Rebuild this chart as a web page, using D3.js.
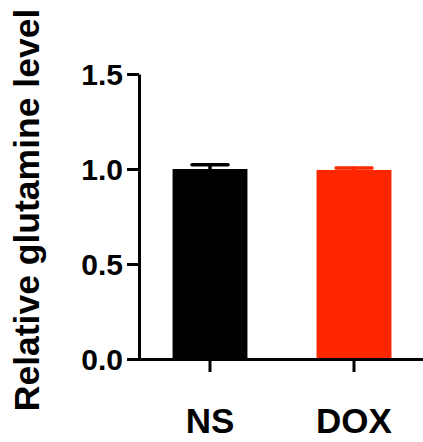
<!DOCTYPE html>
<html>
<head>
<meta charset="utf-8">
<script src="https://cdn.jsdelivr.net/npm/d3@7"></script>
<style>
	body { margin: 0; background: #fff; }
	text { font-family: "Liberation Sans", Arial, sans-serif; font-weight: bold; fill: #000; }
</style>
</head>
<body>
<script>
	var groups = ['NS', 'DOX'],
	means    = [1.0, 0.995],
	errors   = [0.022, 0.01],
	colors   = ['#000000', '#ff2600'],
	yTicks   = [0, 0.5, 1.0, 1.5];

	var width = 423, height = 442;

	var svg = d3.select('body').append('svg')
	.attr('width', width)
	.attr('height', height);

	var x = d3.scaleBand().domain(groups).range([138, 426]).paddingInner(0.48).paddingOuter(0.24),
	y   = d3.scaleLinear().domain([0, 1.5]).range([359, 74]);

	// bars
	svg.selectAll('rect.bar')
	.data(groups)
	.enter().append('rect')
	.attr('class', 'bar')
	.attr('x', function(d) { return x(d); })
	.attr('y', function(d, i) { return y(means[i]); })
	.attr('width', x.bandwidth())
	.attr('height', function(d, i) { return y(0) - y(means[i]); })
	.attr('fill', function(d, i) { return colors[i]; });

	// error bars (upper only)
	var err = svg.selectAll('g.err')
	.data(groups)
	.enter().append('g')
	.attr('class', 'err')
	.attr('stroke', function(d, i) { return colors[i]; })
	.attr('stroke-width', 3.5)
	.attr('stroke-linecap', 'round');

	err.append('line')
	.attr('x1', function(d) { return x(d) + x.bandwidth() / 2; })
	.attr('x2', function(d) { return x(d) + x.bandwidth() / 2; })
	.attr('y1', function(d, i) { return y(means[i]); })
	.attr('y2', function(d, i) { return y(means[i] + errors[i]); });

	err.append('line')
	.attr('x1', function(d) { return x(d) + x.bandwidth() / 2 - 18; })
	.attr('x2', function(d) { return x(d) + x.bandwidth() / 2 + 18; })
	.attr('y1', function(d, i) { return y(means[i] + errors[i]); })
	.attr('y2', function(d, i) { return y(means[i] + errors[i]); });

	// y axis
	var yAxis = svg.append('g')
	.attr('transform', 'translate(139,0)')
	.call(d3.axisLeft(y).tickValues(yTicks).tickFormat(d3.format('.1f')).tickSize(12).tickPadding(4).tickSizeOuter(0));
	yAxis.select('.domain').attr('stroke-width', 3);
	yAxis.selectAll('.tick line').attr('stroke-width', 3);
	yAxis.selectAll('.tick text').style('font-size', '30px').attr('dy', '0.36em');

	// x axis
	var xAxis = svg.append('g')
	.attr('transform', 'translate(0,359)')
	.call(d3.axisBottom(x).tickSize(13).tickSizeOuter(0).tickPadding(36));
	xAxis.select('.domain').attr('d', 'M137.5,0.5H423').attr('stroke-width', 3);
	xAxis.selectAll('.tick line').attr('stroke-width', 3);
	xAxis.selectAll('.tick text').style('font-size', '35px').attr('dy', '0.71em');

	// y title
	svg.append('text')
	.attr('transform', 'translate(39,210) rotate(-90)')
	.attr('text-anchor', 'middle')
	.style('font-size', '35.5px')
	.text('Relative glutamine level');
</script>
</body>
</html>
